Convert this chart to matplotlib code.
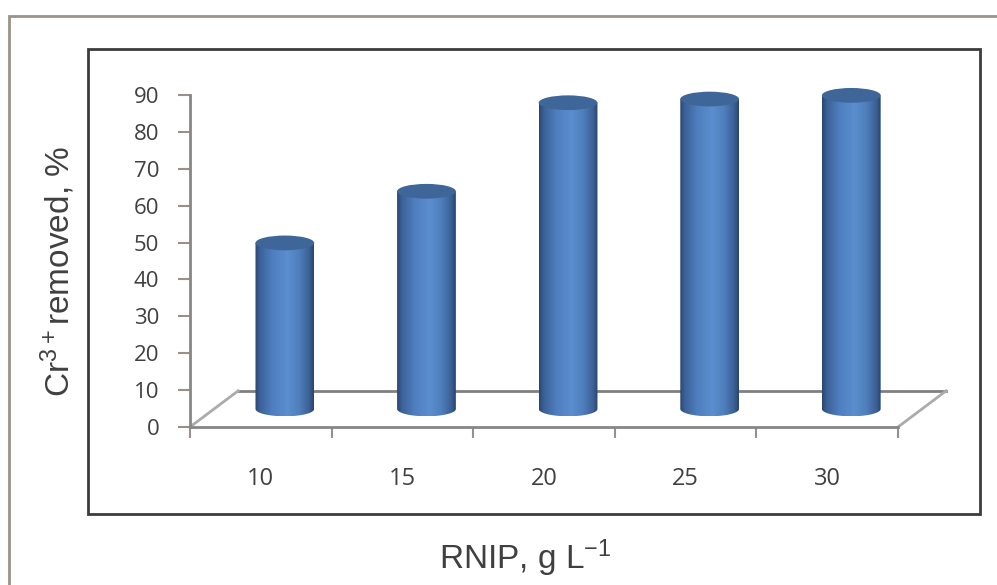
import numpy as np
import matplotlib
matplotlib.use("Agg")
import matplotlib.pyplot as plt
from matplotlib.patches import Ellipse, Rectangle, PathPatch
from matplotlib.path import Path
from matplotlib.colors import LinearSegmentedColormap

plt.rcParams['mathtext.fontset'] = 'custom'
plt.rcParams['mathtext.rm'] = 'Liberation Sans'
plt.rcParams['font.family'] = 'Open Sans'

# data
categories = ['10', '15', '20', '25', '30']
removed = [45, 59, 83, 84, 85]
yticks = [0, 10, 20, 30, 40, 50, 60, 70, 80, 90]

# pseudo 3d floor (depth offset in axis units)
depth_x = 0.34
depth_y = 9.8
cyl_w = 0.415
ell_h = 4.0

txt = '#404040'
axis_grey = '#868686'
tick_grey = '#9a8f8a'

body_cmap = LinearSegmentedColormap.from_list('cyl', [
    (0.0, '#2b4672'), (0.08, '#3b6198'), (0.3, '#4f7fbf'), (0.55, '#5b8ece'),
    (0.75, '#4f7fbc'), (0.92, '#3b6196'), (1.0, '#2a446d')])
top_col = '#3e6698'

fig = plt.figure(figsize=(9.97, 5.85), dpi=100)
ax = fig.add_axes([190/997, (585-427)/585, 708/997, 332/585])

# outer frame + inner plot box
fig.add_artist(Rectangle((9/997, -0.1), 1.2, (585-16)/585 + 0.1, transform=fig.transFigure,
                         fill=False, edgecolor='#9c918c', lw=2))
fig.add_artist(Rectangle((88/997, (585-514)/585), (980-88)/997, (514-49)/585,
                         transform=fig.transFigure, fill=False, edgecolor='#3c3c3c', lw=2))

# floor
x0, x1 = -0.5, 4.5
ax.plot([x0+depth_x, x1+depth_x], [depth_y, depth_y], color='#808080', lw=2, zorder=1, clip_on=False)
ax.plot([x0, x0+depth_x], [0, depth_y], color='#ababab', lw=2, zorder=1, clip_on=False)
ax.plot([x1, x1+depth_x], [0, depth_y], color='#ababab', lw=2, zorder=1, clip_on=False)

grad = np.linspace(0, 1, 200).reshape(1, -1)
t = np.linspace(np.pi, 2*np.pi, 60)
for i, v in enumerate(removed):
    cx = i + depth_x/2
    base = depth_y/2
    top = base + v
    left, right = cx - cyl_w/2, cx + cyl_w/2
    verts = [(left, top), (left, base)]
    verts += [(cx + cyl_w/2*np.cos(a), base + ell_h/2*np.sin(a)) for a in t]
    verts += [(right, top), (left, top)]
    codes = [Path.MOVETO] + [Path.LINETO]*(len(verts)-2) + [Path.CLOSEPOLY]
    clip = PathPatch(Path(verts, codes), transform=ax.transData, facecolor='none', edgecolor='none')
    ax.add_patch(clip)
    im = ax.imshow(grad, cmap=body_cmap, extent=[left, right, base - ell_h/2, top],
                   aspect='auto', zorder=2, interpolation='bilinear')
    im.set_clip_path(clip)
    ax.add_patch(Ellipse((cx, top), cyl_w, ell_h, facecolor=top_col, edgecolor='none',
                         zorder=3, clip_on=False))

ax.set_xlim(-0.5, 4.5)
ax.set_ylim(0, 90)

for s in ['top', 'right']:
    ax.spines[s].set_visible(False)
for s in ['left', 'bottom']:
    ax.spines[s].set_color(axis_grey)
    ax.spines[s].set_linewidth(2)
    ax.spines[s].set_zorder(4)

ax.set_yticks(yticks)
ax.set_yticklabels([str(y) for y in yticks])
ax.tick_params(axis='y', direction='out', length=9, width=1.5, color=tick_grey, pad=13,
               labelsize=16, labelcolor=txt)

ax.set_xticks(range(len(categories)))
ax.set_xticklabels(categories)
ax.set_xticks(np.arange(-0.5, len(categories), 1), minor=True)
ax.tick_params(axis='x', which='major', length=0, pad=29, labelsize=17, labelcolor=txt)
ax.tick_params(axis='x', which='minor', direction='out', length=8, width=1.5, color=tick_grey)

fig.text(58/997, 1 - 271/585, r'Cr$\mathregular{^{3+}}$removed, %', rotation=90, ha='center', va='center',
         fontsize=24, color=txt, family='Liberation Sans')
fig.text(525/997, 1 - 558/585, r'RNIP, g L$\mathregular{^{-1}}$', ha='center', va='center',
         fontsize=24, color=txt, family='Liberation Sans')

fig.savefig('out.png', dpi=100)
